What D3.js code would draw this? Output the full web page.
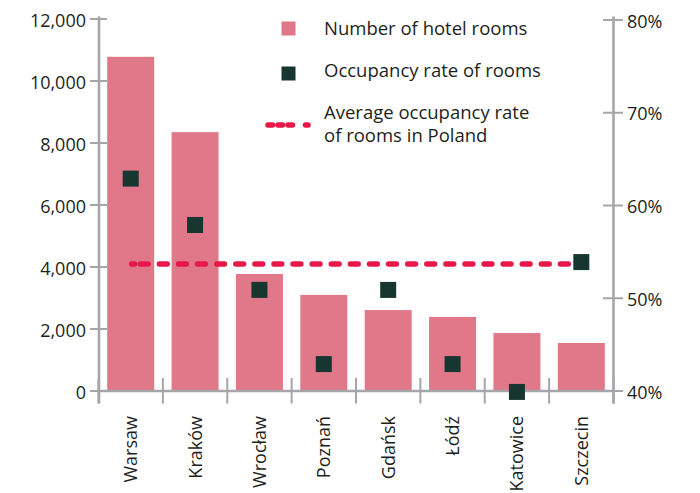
<!DOCTYPE html>
<html>
<head>
<meta charset="utf-8">
<script src="https://cdn.jsdelivr.net/npm/d3@7"></script>
<style>
  html, body { margin: 0; padding: 0; background: #fff; }
  svg { display: block; }
  text { font-family: "Open Sans", "Noto Sans", sans-serif; fill: #231f20; }
</style>
</head>
<body>
<svg id="chart" width="700" height="493"></svg>
<script>
// ---- data ----
const cities = ["Warsaw", "Kraków", "Wrocław", "Poznań", "Gdańsk", "Łódź", "Katowice", "Szczecin"];
const hotelRooms = [10780, 8350, 3775, 3100, 2610, 2390, 1870, 1550];
const occupancy = [62.9, 57.9, 50.9, 42.9, 50.9, 42.9, 39.9, 53.9];
const averageOccupancy = 53.7;
const leftTicks = [0, 2000, 4000, 6000, 8000, 10000, 12000];
const rightTicks = [40, 50, 60, 70, 80];
const legendLabels = ["Number of hotel rooms", "Occupancy rate of rooms", ["Average occupancy rate", "of rooms in Poland"]];

// ---- styles ----
const barColor = "#e1788a";
const markerColor = "#173630";
const dashColor = "#e8174a";
const axisColor = "#a6a6aa";
const fontSize = 18;

const svg = d3.select("#chart");

const x = d3.scaleBand().domain(cities).range([98.5, 613.5]).paddingInner(0.27).paddingOuter(0.135);
const yL = d3.scaleLinear().domain([0, 12000]).range([391, 19]);
const yR = d3.scaleLinear().domain([40, 80]).range([391, 20]);

// bars
svg.append("g").selectAll("rect").data(cities).join("rect")
  .attr("x", d => x(d))
  .attr("width", x.bandwidth())
  .attr("y", (d, i) => yL(hotelRooms[i]))
  .attr("height", (d, i) => yL(0) - yL(hotelRooms[i]))
  .attr("fill", barColor);

// axes
const ax = svg.append("g").attr("stroke", axisColor).attr("fill", "none");
// left axis
ax.append("line").attr("x1", 99).attr("x2", 99).attr("y1", 16.5).attr("y2", 403.5).attr("stroke-width", 2.6);
ax.selectAll(".lt").data(leftTicks).join("line").attr("class", "lt")
  .attr("x1", 90).attr("x2", 107).attr("y1", d => yL(d)).attr("y2", d => yL(d)).attr("stroke-width", 2);
// right axis
ax.append("line").attr("x1", 613.5).attr("x2", 613.5).attr("y1", 16.5).attr("y2", 403.5).attr("stroke-width", 2.6);
ax.selectAll(".rt").data(rightTicks).join("line").attr("class", "rt")
  .attr("x1", 603).attr("x2", 623).attr("y1", d => yR(d)).attr("y2", d => yR(d)).attr("stroke-width", 2);
// baseline
ax.append("line").attr("x1", 99).attr("x2", 613.5).attr("y1", yL(0)).attr("y2", yL(0)).attr("stroke-width", 2.6);
// category boundary ticks
const bounds = cities.map(c => x(c) - x.step() * x.paddingInner() / 2);
bounds.push(x(cities[cities.length - 1]) + x.bandwidth() + x.step() * x.paddingInner() / 2);
ax.selectAll(".ct").data(bounds).join("line").attr("class", "ct")
  .attr("x1", d => d).attr("x2", d => d).attr("y1", 378).attr("y2", 403.5).attr("stroke-width", 2);

// tick labels
const fmt = d3.format(",");
svg.append("g").selectAll("text").data(leftTicks).join("text")
  .attr("x", 86).attr("y", d => yL(d) + 8)
  .attr("text-anchor", "end").attr("font-size", fontSize)
  .text(d => fmt(d));
svg.append("g").selectAll("text").data(rightTicks).join("text")
  .attr("x", 627).attr("y", d => yR(d) + 7.5)
  .attr("text-anchor", "start").attr("font-size", fontSize)
  .text(d => d + "%");
svg.append("g").selectAll("text").data(cities).join("text")
  .attr("transform", d => `translate(${x(d) + x.bandwidth() / 2},416) rotate(-90)`)
  .attr("dy", "0.36em")
  .attr("text-anchor", "end").attr("font-size", fontSize)
  .text(d => d);

// average line
const c0 = x(cities[0]) + x.bandwidth() / 2;
const c1 = x(cities[cities.length - 1]) + x.bandwidth() / 2;
const ya = yR(averageOccupancy);
svg.append("line")
  .attr("x1", c0 + 1).attr("x2", c1).attr("y1", ya).attr("y2", ya)
  .attr("stroke", dashColor).attr("stroke-width", 5.5).attr("stroke-linecap", "round")
  .attr("stroke-dasharray", "7.8,11.3").attr("stroke-dashoffset", 10.5);
svg.append("line")
  .attr("x1", c0 + 1).attr("x2", c0 + 4).attr("y1", ya).attr("y2", ya)
  .attr("stroke", dashColor).attr("stroke-width", 5.5).attr("stroke-linecap", "round");

// markers
const ms = 16;
svg.append("g").selectAll("rect").data(cities).join("rect")
  .attr("x", d => x(d) + x.bandwidth() / 2 - ms / 2)
  .attr("y", (d, i) => yR(occupancy[i]) - ms / 2)
  .attr("width", ms).attr("height", ms)
  .attr("fill", markerColor);

// legend
const lg = svg.append("g");
lg.append("rect").attr("x", 281.5).attr("y", 21.5).attr("width", 14).attr("height", 14).attr("fill", barColor);
lg.append("rect").attr("x", 281.5).attr("y", 66.5).attr("width", 14).attr("height", 14).attr("fill", markerColor);
lg.append("line").attr("x1", 268).attr("x2", 308).attr("y1", 125).attr("y2", 125)
  .attr("stroke", dashColor).attr("stroke-width", 5.5).attr("stroke-linecap", "round")
  .attr("stroke-dasharray", "4.5,5.5,4.5,5.5,4.5,13,4,100");
lg.append("text").attr("x", 324).attr("y", 35).attr("font-size", 18.5).text(legendLabels[0]);
lg.append("text").attr("x", 324).attr("y", 77).attr("font-size", 18.5).text(legendLabels[1]);
const t3 = lg.append("text").attr("x", 324).attr("y", 118.5).attr("font-size", 18.5);
t3.append("tspan").attr("x", 324).text(legendLabels[2][0]);
t3.append("tspan").attr("x", 324).attr("y", 142).text(legendLabels[2][1]);
</script>
</body>
</html>
